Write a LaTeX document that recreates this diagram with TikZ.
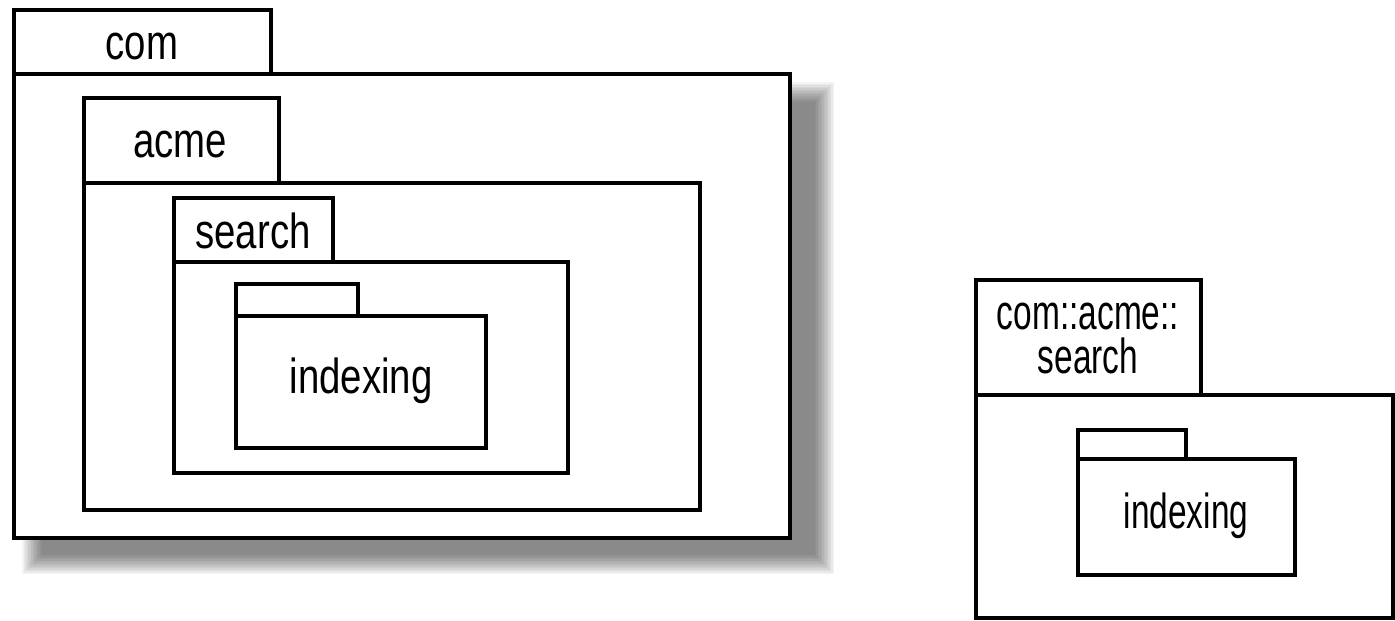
\documentclass[tikz,border=0pt]{standalone}
\usepackage{fontspec}
\newfontfamily\pkgfont{Liberation Sans}[FakeStretch=0.78]
\newfontfamily\pkgfontnarrow{Liberation Sans}[FakeStretch=0.68]
\usetikzlibrary{positioning}

\begin{document}
\begin{tikzpicture}[
			x=0.02cm, y=-0.02cm,
			pkgline/.style={
				draw=black,
				line width=2.8pt,
				fill=white
			},
			pkglabel/.style={
				anchor=base,
				inner sep=0pt,
				align=center,
				font=\fontsize{28}{24.5}\pkgfont\selectfont
			},
			pkglabelnarrow/.style={
				pkglabel,
				font=\fontsize{28}{24.5}\pkgfontnarrow\selectfont
			}
			]
			
			\useasboundingbox (0,0) rectangle (1395,620);
			
			% Shadow of the outer package
			\foreach \k in {0,...,13}
			\fill[black,opacity=0.045] ({22+1.5*\k},{82+1.5*\k}) rectangle ({834-1.5*\k},{574-1.5*\k});
			
			% Nested packages
			\draw[pkgline] (14,10) rectangle (271,74);
			\draw[pkgline] (14,74) rectangle (790,538);
			\node[pkglabel] (com) at (142,59) {com};
			
			\draw[pkgline] (84,98) rectangle (279,183);
			\draw[pkgline] (84,183) rectangle (700,510);
			\node[pkglabel] (acme) at (180,157) {acme};
			
			\draw[pkgline] (174,198) rectangle (333,262);
			\draw[pkgline] (174,262) rectangle (568,473);
			\node[pkglabel] (search) at (253,248) {search};
			
			\draw[pkgline] (236,284) rectangle (358,316);
			\draw[pkgline] (236,316) rectangle (486,448);
			\node[pkglabel] (indexing) at (361,393) {indexing};
			
			% Qualified name
			\draw[pkgline] (976,280) rectangle (1201,395);
			\draw[pkgline] (976,395) rectangle (1393,618);
			\node[pkglabelnarrow] (qualified) at (1088,373) {com::acme::\\search};
			
			\draw[pkgline] (1078,430) rectangle (1186,459);
			\draw[pkgline] (1078,459) rectangle (1295,575);
			\node[pkglabelnarrow] (indexing2) at (1186,528) {indexing};
			
		\end{tikzpicture}
\end{document}
